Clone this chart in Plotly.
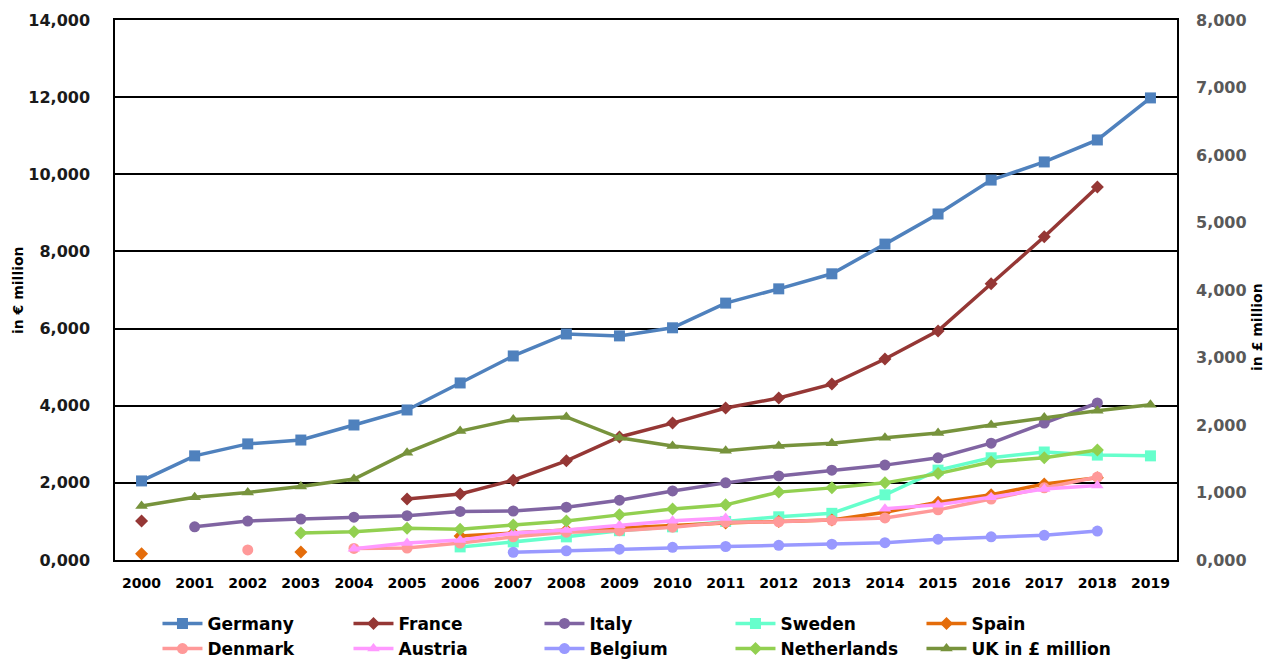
import plotly.graph_objects as go

years = [str(y) for y in range(2000, 2020)]

germany = [2050, 2700, 3010, 3110, 3500, 3890, 4590, 5290, 5860, 5810, 6020, 6660, 7030, 7420, 8190, 8970, 9850, 10320, 10890, 11980]
france = [1010, None, None, None, None, 1580, 1710, 2070, 2570, 3190, 3550, 3940, 4200, 4560, 5210, 5940, 7160, 8380, 9670, None]
italy = [None, 860, 1010, 1060, 1110, 1150, 1260, 1270, 1370, 1550, 1790, 2000, 2180, 2330, 2460, 2650, 3030, 3550, 4070, None]
sweden = [None, None, None, None, None, None, 340, 470, 600, 760, 860, 1000, 1120, 1210, 1690, 2330, 2650, 2800, 2720, 2700]
spain = [160, None, None, 210, None, None, 620, 700, 780, 830, 900, 960, 1000, 1040, 1240, 1500, 1690, 1970, 2130, None]
denmark = [None, None, 260, None, 300, 310, 440, 600, 720, 760, 850, 980, 990, 1030, 1090, 1300, 1580, 1870, 2150, None]
austria = [None, None, None, None, 290, 440, 520, 700, 780, 900, 1020, 1090, None, None, 1330, 1430, 1630, 1840, 1930, None]
belgium = [None, None, None, None, None, None, None, 200, 240, 280, 330, 350, 380, 410, 450, 540, 600, 640, 750, None]
netherlands = [None, None, None, 700, 730, 820, 800, 910, 1010, 1170, 1320, 1430, 1760, 1870, 2000, 2240, 2540, 2650, 2850, None]
uk_gbp = [800, 930, 1000, 1090, 1200, 1590, 1910, 2080, 2120, 1810, 1690, 1620, 1690, 1730, 1810, 1880, 2000, 2110, 2210, 2300]

left_ticks = [0, 2000, 4000, 6000, 8000, 10000, 12000, 14000]
left_labels = ["0,000", "2,000", "4,000", "6,000", "8,000", "10,000", "12,000", "14,000"]
right_ticks = [0, 1000, 2000, 3000, 4000, 5000, 6000, 7000, 8000]
right_labels = ["0,000", "1,000", "2,000", "3,000", "4,000", "5,000", "6,000", "7,000", "8,000"]

series = [
    ("Germany", germany, "#4F81BD", "square", "y"),
    ("France", france, "#953735", "diamond", "y"),
    ("Italy", italy, "#8064A2", "circle", "y"),
    ("Sweden", sweden, "#66FFCC", "square", "y"),
    ("Spain", spain, "#E46C0A", "diamond", "y"),
    ("Denmark", denmark, "#FF9999", "circle", "y"),
    ("Austria", austria, "#FF99FF", "triangle-up", "y"),
    ("Belgium", belgium, "#9999FF", "circle", "y"),
    ("Netherlands", netherlands, "#92D050", "diamond", "y"),
    ("UK in £ million", uk_gbp, "#77933C", "triangle-up", "y2"),
]

FONT = "DejaVu Sans"
fig = go.Figure()
for name, vals, color, sym, ax in series:
    fig.add_trace(go.Scatter(
        x=years, y=vals, name=name, yaxis=ax, mode="lines+markers",
        connectgaps=False,
        line=dict(color=color, width=3.5),
        marker=dict(symbol=sym, size=11 if sym != "diamond" else 10, color=color),
    ))

fig.update_layout(
    width=1259, height=654,
    margin=dict(l=107, r=90, t=12, b=102, autoexpand=False),
    plot_bgcolor="white", paper_bgcolor="white",
    font=dict(family=FONT, color="#1a1a1a"),
    showlegend=True,
    legend=dict(
        orientation="h", x=0.04, xanchor="left", y=-0.085, yanchor="top",
        entrywidth=136, entrywidthmode="pixels", itemwidth=40,
        font=dict(family=FONT, size=17, color="black", weight="bold"),
        tracegroupgap=0, traceorder="normal",
    ),
    xaxis=dict(
        type="category", range=[-0.5, 19.5], automargin=False,
        showline=True, linecolor="black", linewidth=1.5, mirror=True,
        showgrid=False, ticks="",
        tickfont=dict(family=FONT, size=14, color="black", weight="bold"),
        ticklabelstandoff=9,
    ),
    yaxis=dict(
        range=[0, 14000], tickvals=left_ticks, ticktext=left_labels, automargin=False,
        showline=True, linecolor="black", linewidth=1.5, mirror=True,
        showgrid=True, gridcolor="black", gridwidth=1.5, zeroline=False,
        ticks="", tickfont=dict(family=FONT, size=16, color="#1a1a1a", weight="bold"),
        ticklabelstandoff=20,
    ),
    yaxis2=dict(
        overlaying="y", side="right", range=[0, 8000], automargin=False,
        tickvals=right_ticks, ticktext=right_labels,
        showgrid=False, zeroline=False, showline=False, ticks="",
        tickfont=dict(family=FONT, size=16, color="#595959", weight="bold"),
        ticklabelstandoff=18,
    ),
    annotations=[
        dict(text="in € million", xref="paper", yref="paper", x=-0.0913, y=0.5,
             textangle=-90, showarrow=False, xanchor="center", yanchor="middle",
             font=dict(family=FONT, size=14, color="black", weight="bold")),
        dict(text="in £ million", xref="paper", yref="paper", x=1.076, y=0.431,
             textangle=-90, showarrow=False, xanchor="center", yanchor="middle",
             font=dict(family=FONT, size=14, color="black", weight="bold")),
    ],
)

fig.write_html("out.html")
